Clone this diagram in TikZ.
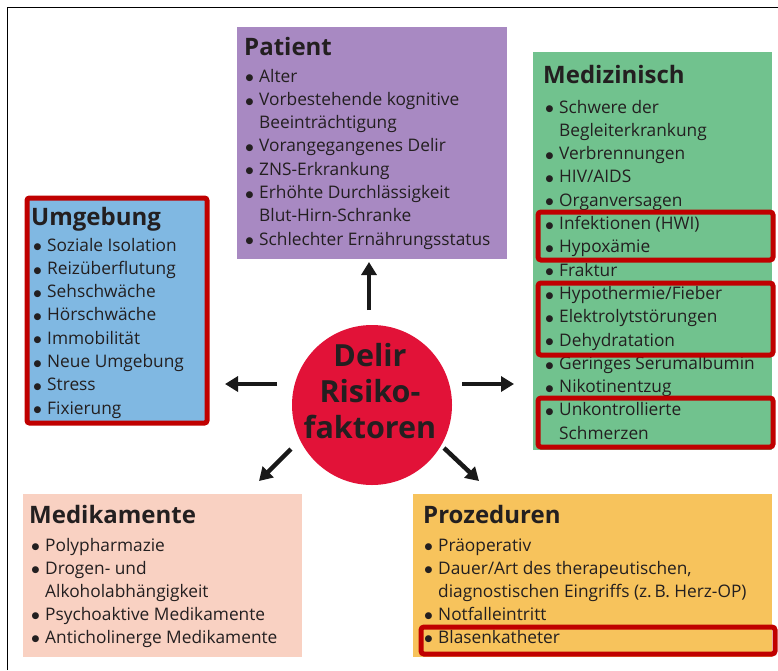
\documentclass[tikz,border=0pt]{standalone}
\usepackage{fontspec}
\setmainfont{Open Sans}
\newfontfamily\symf{DejaVu Sans}
\usetikzlibrary{arrows.meta}
\definecolor{cpat}{RGB}{168,137,194}
\definecolor{cmed}{RGB}{113,194,142}
\definecolor{cumg}{RGB}{128,184,226}
\definecolor{cmedi}{RGB}{249,209,194}
\definecolor{cpro}{RGB}{247,195,92}
\definecolor{ccirc}{RGB}{226,18,56}
\definecolor{chl}{RGB}{192,0,0}
\definecolor{ctxt}{RGB}{35,31,32}
\newcommand{\itm}{\makebox[13.5pt][l]{\raisebox{1.3pt}{\symf\fontsize{9}{10}\selectfont ●}}}
\newcommand{\ind}{\hspace*{13.5pt}}
\tikzset{
  box/.style={inner sep=0pt, anchor=north west},
  hl/.style={draw=chl, line width=5pt, rounded corners=3pt, inner sep=0pt, anchor=north west},
  head/.style={inner sep=0pt, anchor=base west, text=ctxt, font=\bfseries\fontsize{24}{28}\selectfont},
  lst/.style={inner sep=0pt, anchor=base west, text=ctxt, font=\fontsize{17.3}{23.3}\selectfont},
  lstb/.style={inner sep=0pt, anchor=base west, text=ctxt, font=\fontsize{17.3}{23}\selectfont},
  arr/.style={line width=4.5pt, color=black!90, -{Triangle[length=13pt, width=15pt]}}
}
\begin{document}
\begin{tikzpicture}[x=1pt,y=-1pt]
\useasboundingbox (0,0) rectangle (778,670);
\fill[white] (0,0) rectangle (778,670);
\draw[line width=1.6pt] (7.5,670) -- (7.5,7.5) -- (778,7.5);

% boxes
\node[box, fill=cpat, minimum width=270pt, minimum height=232pt] (patient) at (237,27) {};
\node[box, fill=cmed, minimum width=239pt, minimum height=398pt] (medizin) at (533,52) {};
\node[box, fill=cumg, draw=chl, line width=5pt, rounded corners=2.5pt, minimum width=180pt, minimum height=225pt] (umgebung) at (24.5,195.5) {};
\node[box, fill=cmedi, minimum width=279pt, minimum height=163pt] (medikamente) at (23,494) {};
\node[box, fill=cpro, minimum width=359pt, minimum height=163pt] (prozeduren) at (413,494) {};

% headings
\node[head] (hU) at (31,225) {Umgebung};
\node[head] (hP) at (244,55) {Patient};
\node[head] (hM) at (543,83) {Medizinisch};
\node[head] (hK) at (29,523) {Medikamente};
\node[head] (hR) at (423,523) {Prozeduren};

% lists
\node[lst] (lU) at (33.5,251) {\begin{tabular}[t]{@{}l@{}}
\itm Soziale Isolation\\
\itm Reizüberflutung\\
\itm Sehschwäche\\
\itm Hörschwäche\\
\itm Immobilität\\
\itm Neue Umgebung\\
\itm Stress\\
\itm Fixierung
\end{tabular}};
\node[lst] (lP) at (245.5,82) {\begin{tabular}[t]{@{}l@{}}
\itm Alter\\
\itm Vorbestehende kognitive\\
\ind Beeinträchtigung\\
\itm Vorangegangenes Delir\\
\itm ZNS-Erkrankung\\
\itm Erhöhte Durchlässigkeit\\
\ind Blut-Hirn-Schranke\\
\itm Schlechter Ernährungsstatus
\end{tabular}};
\node[lst] (lM) at (545.5,113) {\begin{tabular}[t]{@{}l@{}}
\itm Schwere der\\
\ind Begleiterkrankung\\
\itm Verbrennungen\\
\itm HIV/AIDS\\
\itm Organversagen\\
\itm Infektionen (HWI)\\
\itm Hypoxämie\\
\itm Fraktur\\
\itm Hypothermie/Fieber\\
\itm Elektrolytstörungen\\
\itm Dehydratation\\
\itm Geringes Serumalbumin\\
\itm Nikotinentzug\\
\itm Unkontrollierte\\
\ind Schmerzen
\end{tabular}};
\node[lstb] (lK) at (31.5,551) {\begin{tabular}[t]{@{}l@{}}
\itm Polypharmazie\\
\itm Drogen- und\\
\ind Alkoholabhängigkeit\\
\itm Psychoaktive Medikamente\\
\itm Anticholinerge Medikamente
\end{tabular}};
\node[lstb] (lR) at (424.5,551) {\begin{tabular}[t]{@{}l@{}}
\itm Präoperativ\\
\itm Dauer/Art des therapeutischen,\\
\ind diagnostischen Eingriffs (z.\,B. Herz-OP)\\
\itm Notfalleintritt\\
\itm Blasenkatheter
\end{tabular}};

% highlight frames
\node[hl, minimum width=235pt, minimum height=48pt] (hl1) at (535.5,209.5) {};
\node[hl, minimum width=235pt, minimum height=72pt] (hl2) at (535.5,280.5) {};
\node[hl, minimum width=235pt, minimum height=49pt] (hl3) at (535.5,395.5) {};
\node[hl, minimum width=354pt, minimum height=27pt] (hl4) at (418.5,624.5) {};

% centre
\node[circle, fill=ccirc, minimum size=160pt, inner sep=0pt] (c) at (372,405) {};
\node[align=center, text=ctxt, font=\bfseries\fontsize{30.5}{36}\selectfont, inner sep=0pt] (ctext) at (370,391) {Delir\\Risiko-\\faktoren};

% arrows
\coordinate (aP1) at (369,310); \coordinate (aP2) at (369,262);
\coordinate (aU1) at (277,384); \coordinate (aU2) at (225,384);
\coordinate (aM1) at (462,384); \coordinate (aM2) at (514,384);
\coordinate (aK1) at (291,449); \coordinate (aK2) at (259,481);
\coordinate (aR1) at (444,448); \coordinate (aR2) at (479,481);
\draw[arr] (aP1) -- (aP2);
\draw[arr] (aU1) -- (aU2);
\draw[arr] (aM1) -- (aM2);
\draw[arr] (aK1) -- (aK2);
\draw[arr] (aR1) -- (aR2);
\end{tikzpicture}
\end{document}
